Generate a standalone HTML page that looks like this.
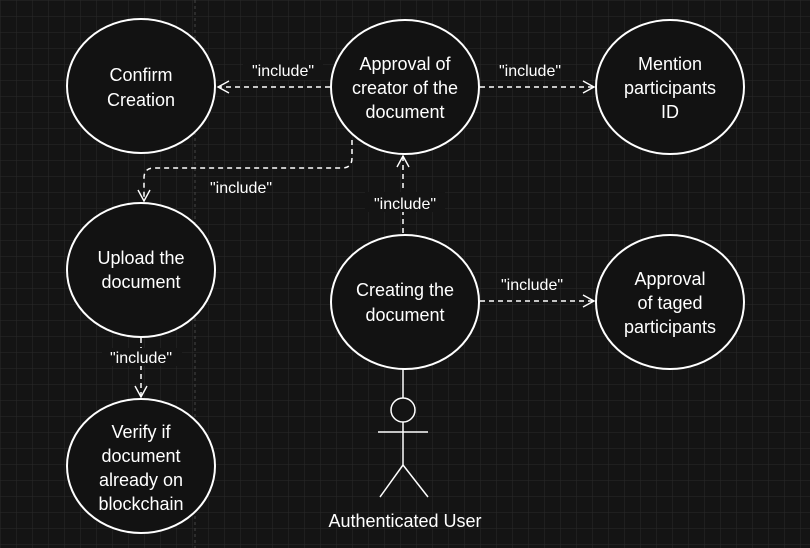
<!DOCTYPE html>
<html><head><style>
body{margin:0;background:#141414;}
svg{display:block}
text{font-family:"Liberation Sans",sans-serif;fill:#fff;}
</style></head><body>
<svg width="810" height="548" xmlns="http://www.w3.org/2000/svg">
<defs>
<pattern id="g" width="16" height="16" patternUnits="userSpaceOnUse">
<path d="M16 0H0V16" fill="none" stroke="#2a2a2a" stroke-width="1"/>
</pattern>
<marker id="a" markerWidth="16" markerHeight="16" refX="12" refY="7" orient="auto" markerUnits="userSpaceOnUse">
<path d="M1 1L12 7L1 13" fill="none" stroke="#fff" stroke-width="1.4"/>
</marker>
</defs>
<rect width="810" height="548" fill="#141414"/>
<rect width="810" height="548" fill="url(#g)"/>
<line x1="195" y1="0" x2="195" y2="548" stroke="#444" stroke-dasharray="3,3"/>
<g fill="#121212" stroke="#fff" stroke-width="2">
<ellipse cx="141" cy="86" rx="74" ry="67"/>
<ellipse cx="405" cy="87" rx="74" ry="67"/>
<ellipse cx="670" cy="87" rx="74" ry="67"/>
<ellipse cx="141" cy="270" rx="74" ry="67"/>
<ellipse cx="405" cy="302" rx="74" ry="67"/>
<ellipse cx="670" cy="302" rx="74" ry="67"/>
<ellipse cx="141" cy="466" rx="74" ry="67"/>
</g>
<g stroke="#fff" stroke-width="1.5" fill="none" stroke-dasharray="5,4">
<path d="M330 87H218" marker-end="url(#a)"/>
<path d="M480 87H594" marker-end="url(#a)"/>
<path d="M352 140V158Q352 168 342 168H154Q144 168 144 178V201" marker-end="url(#a)"/>
<path d="M403 233V156" marker-end="url(#a)"/>
<path d="M480 301H594" marker-end="url(#a)"/>
<path d="M141 338V397" marker-end="url(#a)"/>
</g>
<g font-size="16" text-anchor="middle">
<rect x="243" y="60" width="80" height="20" fill="#141414"/>
<text x="283" y="76">"include"</text>
<text x="530" y="76">"include"</text>
<text x="241" y="193">"include"</text>
<rect x="365" y="192" width="80" height="20" fill="#141414"/>
<text x="405" y="209">"include"</text>
<text x="532" y="290">"include"</text>
<rect x="102" y="348" width="80" height="18" fill="#141414"/>
<text x="141" y="363">"include"</text>
</g>
<g font-size="18" text-anchor="middle">
<text x="141" y="81">Confirm</text><text x="141" y="106">Creation</text>
<text x="405" y="70">Approval of</text><text x="405" y="94">creator of the</text><text x="405" y="118">document</text>
<text x="670" y="70">Mention</text><text x="670" y="94">participants</text><text x="670" y="118">ID</text>
<text x="141" y="264">Upload the</text><text x="141" y="288">document</text>
<text x="405" y="296">Creating the</text><text x="405" y="321">document</text>
<text x="670" y="285">Approval</text><text x="670" y="309">of taged</text><text x="670" y="333">participants</text>
<text x="141" y="438">Verify if</text><text x="141" y="462">document</text><text x="141" y="486">already on</text><text x="141" y="510">blockchain</text>
<text x="405" y="527">Authenticated User</text>
</g>
<g stroke="#fff" stroke-width="1.5" fill="none">
<line x1="403" y1="369" x2="403" y2="398"/>
<circle cx="403" cy="410" r="12" fill="#141414"/>
<path d="M403 422V465M378 432H428M403 465L380 497M403 465L428 497"/>
</g>
</svg>
</body></html>
